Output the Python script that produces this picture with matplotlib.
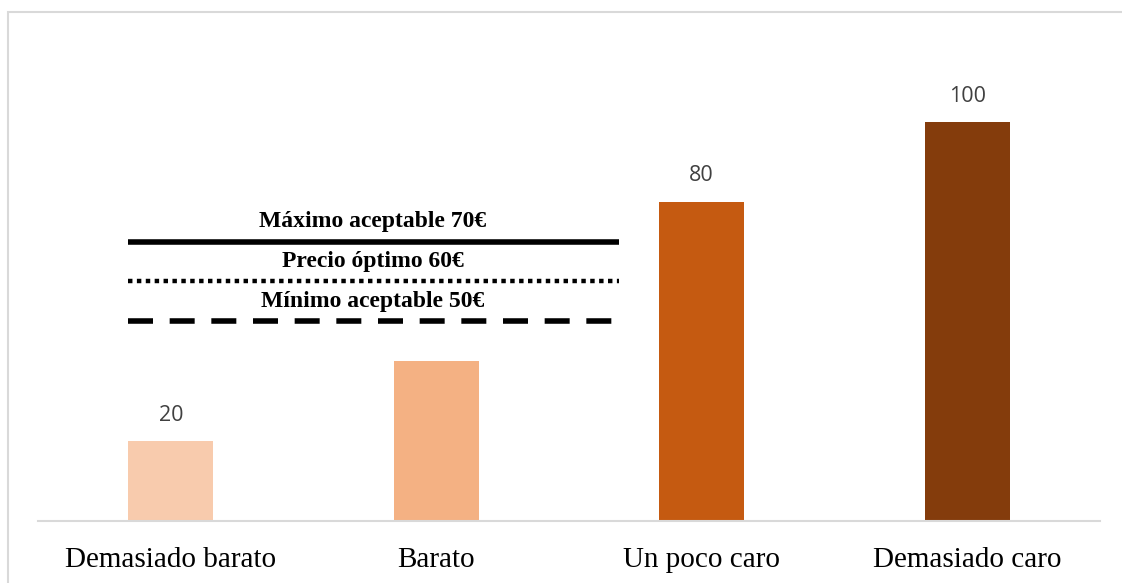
import matplotlib.pyplot as plt
from matplotlib.patches import Rectangle

categories = ["Demasiado barato", "Barato", "Un poco caro", "Demasiado caro"]
values = [20, 40, 80, 100]
value_labels = ["20", "", "80", "100"]
colors = ["#F8CBAD", "#F4B183", "#C55A11", "#843C0C"]

# reference price levels drawn across the first two categories
ref_names = ["Máximo aceptable 70€", "Precio óptimo 60€", "Mínimo aceptable 50€"]
ref_values = [70, 60, 50]
ref_styles = ["-", (0, (1, 1)), (0, (4.5, 3))]
ref_widths = [4.0, 3.2, 4.0]

W, H = 1122, 583
fig = plt.figure(figsize=(W / 100, H / 100), dpi=100)
fig.patch.set_facecolor("white")

# chart area border
fig.patches.append(Rectangle((8 / W, -0.1), 1.2, 1.1 - 12.5 / H,
                             transform=fig.transFigure, fill=False,
                             edgecolor="#D9D9D9", lw=1.5))

ax = fig.add_axes([38 / W, 62 / H, 1062 / W, 509 / H])
x = range(len(categories))
ax.bar(x, values, width=0.32, color=colors, zorder=2)
ax.set_xlim(-0.5, 3.5)
ax.set_ylim(0, 127.5)

for i, (v, lab) in enumerate(zip(values, value_labels)):
    if lab:
        ax.annotate(lab, (i, v), xytext=(0, 18.5), textcoords="offset points",
                    ha="center", va="center", fontsize=15.5,
                    family="Open Sans", color="#404040")

for name, v, ls, lw in zip(ref_names, ref_values, ref_styles, ref_widths):
    ax.plot([-0.16, 1.69], [v, v], color="black", ls=ls, lw=lw,
            solid_capstyle="butt", dash_capstyle="butt", zorder=3)
    ax.annotate(name, (0.76, v), xytext=(0, 14.5), textcoords="offset points",
                ha="center", va="center", fontsize=17, fontweight="bold",
                family="Liberation Serif", color="black")

ax.set_xticks(list(x))
ax.set_xticklabels(categories, family="Liberation Serif", fontsize=21)
ax.tick_params(axis="x", length=0, pad=19)
ax.set_yticks([])
for s in ["top", "right", "left"]:
    ax.spines[s].set_visible(False)
ax.spines["bottom"].set_color("#D9D9D9")
ax.spines["bottom"].set_linewidth(1.5)
ax.patch.set_visible(False)

fig.savefig("out.png", dpi=100)
